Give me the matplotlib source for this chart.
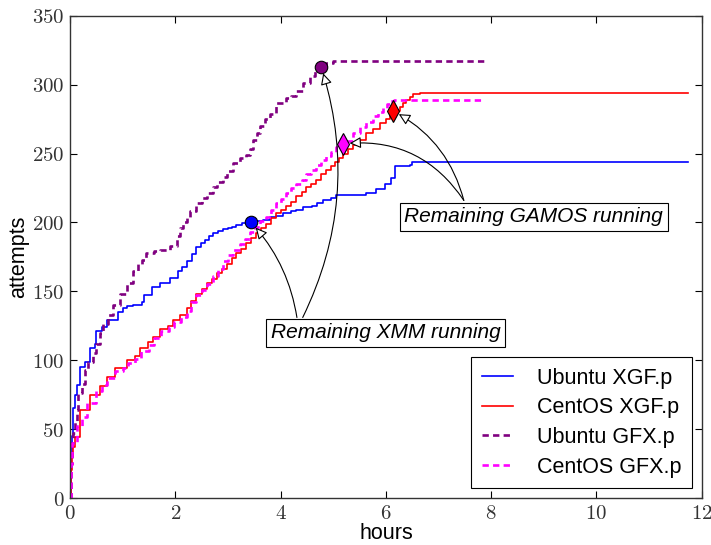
import matplotlib
matplotlib.use("Agg")
import matplotlib.pyplot as plt
from matplotlib.ticker import FuncFormatter, MultipleLocator

plt.rcParams['mathtext.fontset'] = 'cm'
plt.rcParams['font.family'] = ['Liberation Sans', 'DejaVu Sans']

# ---- data ----
ubuntu_xgf_x = [0, 0.01, 0.03, 0.06, 0.1, 0.14, 0.19, 0.28, 0.37, 0.47, 0.5, 0.6, 0.7, 0.82, 0.91,
                1.0, 1.08, 1.2, 1.36, 1.4, 1.55, 1.71, 1.9, 2.05, 2.13, 2.22, 2.32, 2.4, 2.48, 2.56,
                2.64, 2.72, 2.82, 2.91, 3.0, 3.07, 3.16, 3.26, 3.44, 3.55, 3.67, 3.8, 3.92, 4.05,
                4.2, 4.3, 4.43, 4.6, 4.7, 4.8, 4.95, 5.06, 5.63, 5.82, 5.98, 6.1, 6.17, 6.45, 6.5, 11.73]
ubuntu_xgf_y = [0, 30, 45, 65, 75, 82, 95, 99, 109, 112, 121, 124, 129, 129, 135,
                138, 139, 140, 142, 147, 153, 156, 160, 165, 168, 172, 177, 182, 185, 187,
                190, 192, 194, 195, 196, 197, 198, 199.5, 200, 201, 202, 204, 205, 207,
                208, 209, 211, 212, 214, 216, 218, 220, 221, 224, 228, 232, 241, 242, 244, 244]

centos_xgf_x = [0, 0.01, 0.03, 0.06, 0.1, 0.19, 0.38, 0.57, 0.7, 0.85, 1.08, 1.23, 1.33, 1.48, 1.58,
                1.71, 1.86, 1.96, 2.09, 2.22, 2.3, 2.4, 2.5, 2.6, 2.7, 2.79, 2.88, 2.98, 3.07, 3.16,
                3.25, 3.35, 3.44, 3.54, 3.63, 3.73, 3.82, 3.92, 4.01, 4.11, 4.2, 4.3, 4.4, 4.49,
                4.58, 4.68, 4.77, 4.87, 4.95, 5.03, 5.11, 5.19, 5.28, 5.38, 5.5, 5.63, 5.76, 5.89,
                6.0, 6.08, 6.18, 6.27, 6.33, 6.39, 6.45, 6.52, 6.65, 11.73]
centos_xgf_y = [0, 20, 30, 37, 44, 64, 75, 81, 88, 94, 100, 103, 109, 113, 117,
                123, 125, 129, 133, 138, 143, 148, 152, 156, 159, 163, 166, 170, 174, 178,
                181, 185, 189, 192, 196, 199, 203, 207, 209, 212, 215, 219, 222, 226,
                228, 231, 235, 238, 241, 244, 247, 250, 253, 256, 260, 265, 268, 272,
                275, 278, 281, 284, 287, 289, 291, 293, 294, 294]

ubuntu_gfx_x = [0, 0.01, 0.03, 0.06, 0.1, 0.13, 0.16, 0.22, 0.28, 0.35, 0.44, 0.5, 0.57, 0.63, 0.73,
                0.82, 0.95, 1.08, 1.2, 1.3, 1.36, 1.45, 1.6, 1.71, 1.9, 2.03, 2.09, 2.15, 2.22, 2.28,
                2.4, 2.5, 2.6, 2.72, 2.79, 2.91, 2.98, 3.1, 3.23, 3.35, 3.42, 3.48, 3.55, 3.61, 3.7,
                3.8, 3.92, 4.11, 4.2, 4.3, 4.43, 4.56, 4.65, 4.77, 4.87, 5.0, 7.88]
ubuntu_gfx_y = [0, 25, 40, 47, 56, 64, 76, 83, 93, 99, 105, 112, 120, 126, 133,
                140, 148, 156, 165, 170, 173, 178, 179, 180, 183, 190, 196, 200, 204, 208,
                214, 218, 221, 226, 229, 233, 237, 243, 247, 249, 253, 260, 265, 270, 275,
                279, 287, 290, 292, 295, 301, 306, 310, 313, 316, 317, 317]

centos_gfx_x = [0, 0.01, 0.04, 0.13, 0.22, 0.32, 0.5, 0.6, 0.7, 0.85, 1.0, 1.1, 1.23, 1.35, 1.5,
                1.6, 1.73, 1.88, 1.98, 2.1, 2.22, 2.3, 2.4, 2.5, 2.6, 2.72, 2.81, 2.91, 3.0, 3.1,
                3.23, 3.32, 3.42, 3.52, 3.61, 3.73, 3.82, 3.92, 4.01, 4.11, 4.2, 4.3, 4.4, 4.49,
                4.58, 4.68, 4.77, 4.87, 4.96, 5.06, 5.18, 5.25, 5.38, 5.5, 5.63, 5.76, 5.85, 5.95,
                6.02, 6.08, 6.15, 7.84]
centos_gfx_y = [0, 25, 40, 52, 59, 69, 78, 82, 87, 92, 94, 98, 101, 107, 111,
                116, 121, 124, 128, 131, 136, 142, 147, 151, 155, 161, 166, 172, 176, 180,
                184, 188, 193, 197, 201, 204, 209, 214, 217, 221, 225, 228, 231, 235,
                238, 242, 245, 248, 251, 255, 257, 259, 265, 269, 273, 277, 280, 283,
                286, 288, 289, 289]

labels = ["Ubuntu XGF.p", "CentOS XGF.p", "Ubuntu GFX.p", "CentOS GFX.p"]
colors = ["#0000ff", "#ff0000", "#800080", "#ff00ff"]

# markers: (x, y) where remaining jobs start
xmm_marks = [(3.44, 200), (4.77, 313)]
gamos_marks = [(5.18, 257), (6.13, 281)]

fig = plt.figure(figsize=(7.11, 5.45), dpi=100)
ax = fig.add_axes([0.0985, 0.0862, 0.8885, 0.885])

ax.plot(ubuntu_xgf_x, ubuntu_xgf_y, drawstyle='steps-post', color=colors[0], lw=1.2, label=labels[0])
ax.plot(centos_xgf_x, centos_xgf_y, drawstyle='steps-post', color=colors[1], lw=1.2, label=labels[1])
ax.plot(ubuntu_gfx_x, ubuntu_gfx_y, drawstyle='steps-post', color=colors[2], lw=1.9,
        dashes=(2.4, 1.6), label=labels[2])
ax.plot(centos_gfx_x, centos_gfx_y, drawstyle='steps-post', color=colors[3], lw=1.9,
        dashes=(2.4, 1.6), label=labels[3])

ax.plot(*xmm_marks[0], 'o', color=colors[0], mec='black', mew=0.8, ms=9, zorder=5)
ax.plot(*xmm_marks[1], 'o', color=colors[2], mec='black', mew=0.8, ms=9, zorder=5)
ax.plot(*gamos_marks[0], 'd', color=colors[3], mec='black', mew=0.8, ms=11, zorder=5)
ax.plot(*gamos_marks[1], 'd', color=colors[1], mec='black', mew=0.8, ms=11, zorder=5)

def arrow(tip, tail, rad):
    ax.annotate('', xy=tip, xytext=tail,
                arrowprops=dict(arrowstyle='-|>', fc='white', ec='black', lw=0.8,
                                mutation_scale=17, shrinkA=0, shrinkB=5,
                                connectionstyle=f'arc3,rad={rad}'), zorder=6)

arrow(xmm_marks[0], (4.31, 131), 0.15)
arrow(xmm_marks[1], (4.42, 131), 0.2)
arrow(gamos_marks[0], (7.48, 216), 0.3)
arrow(gamos_marks[1], (7.48, 216), 0.22)

box = dict(boxstyle='square,pad=0.22', fc='white', ec='black', lw=0.8)
ax.text(6.0, 120, 'Remaining XMM running', fontsize=15, style='italic',
        ha='center', va='center', bbox=box, zorder=7)
ax.text(8.81, 204, 'Remaining GAMOS running', fontsize=15, style='italic',
        ha='center', va='center', bbox=box, zorder=7)

ax.set_xlim(0, 12)
ax.set_ylim(0, 350)
ax.xaxis.set_major_locator(MultipleLocator(2))
ax.yaxis.set_major_locator(MultipleLocator(50))
fmt = FuncFormatter(lambda v, p: f'${v:g}$')
ax.xaxis.set_major_formatter(fmt)
ax.yaxis.set_major_formatter(fmt)
ax.tick_params(direction='in', top=True, right=True, length=5, width=0.8,
               labelsize=15, labelcolor='#333333', pad=4)
for s in ax.spines.values():
    s.set_linewidth(1.0)
    s.set_color('#333333')

ax.set_xlabel('hours', fontsize=15.5, labelpad=0)
ax.set_ylabel('attempts', fontsize=15.5, labelpad=2)

leg = ax.legend(loc='lower right', fontsize=15.5, fancybox=False, framealpha=1,
                edgecolor='black', borderaxespad=0.45, handlelength=1.45,
                handletextpad=1.1, labelspacing=0.4, borderpad=0.5)
leg.get_frame().set_linewidth(0.8)

fig.savefig('out.png', dpi=100)
